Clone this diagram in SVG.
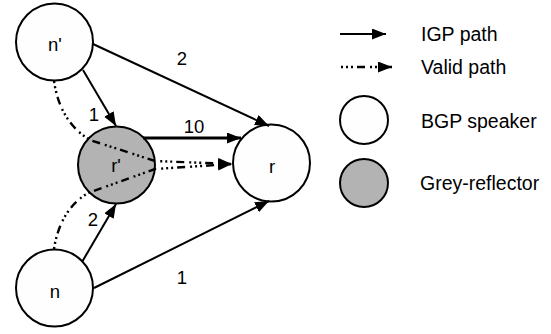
<svg xmlns="http://www.w3.org/2000/svg" width="551" height="334" viewBox="0 0 551 334">
<defs>
<marker id="ah" markerUnits="userSpaceOnUse" markerWidth="16" markerHeight="12" refX="14" refY="5.5" orient="auto">
<path d="M0,0 L14,5.5 L0,11 z" fill="#000"/>
</marker>
<style>
.node{stroke:#000;stroke-width:2;fill:#fefefe}
.grey{fill:#b3b3b3}
.e{stroke:#000;stroke-width:2;fill:none;marker-end:url(#ah)}
.thick{stroke-width:3}
.v{stroke:#000;stroke-width:2.4;fill:none;stroke-dasharray:2,3,2,3,2,4,8,5;marker-end:url(#ah)}
text{font-family:"Liberation Sans",Arial,sans-serif;font-size:18.5px;fill:#000}
.c{text-anchor:middle}
.lg{font-size:19.5px}
</style>
</defs>
<rect width="551" height="334" fill="#fff"/>
<g id="n-prime"><circle class="node" cx="54.5" cy="42" r="38.5"/><text class="c" x="55" y="51">n'</text></g>
<g id="r-prime"><circle class="node grey" cx="116.5" cy="165" r="38.5"/><text class="c" x="116" y="172">r'</text></g>
<g id="r"><circle class="node" cx="271.5" cy="163" r="38.5"/><text class="c" x="272" y="173">r</text></g>
<g id="n"><circle class="node" cx="54.5" cy="288" r="38.5"/><text class="c" x="55" y="298">n</text></g>
<g id="connectors">
<path class="v" d="M54,81 Q60,122 90,140 L155,161 L232,164"/>
<path class="v" d="M54,249 Q60,210 88,193 L155,169 L232,164"/>
<line class="e" x1="83" y1="70" x2="116" y2="126"/>
<line class="e" x1="93" y1="44" x2="269" y2="126"/>
<line class="e thick" x1="143" y1="138" x2="241" y2="138"/>
<line class="e" x1="82" y1="262" x2="116" y2="204"/>
<line class="e" x1="94" y1="288" x2="269" y2="201"/>
<text class="c" x="182" y="65">2</text>
<text class="c" x="94" y="121">1</text>
<text class="c" x="194" y="133">10</text>
<text class="c" x="93" y="226">2</text>
<text class="c" x="182" y="284">1</text>
</g>
<g id="legend">
<line class="e" x1="340" y1="34" x2="386" y2="34"/>
<text class="lg" x="421" y="41">IGP path</text>
<line class="v" x1="341" y1="67" x2="392" y2="67"/>
<text class="lg" x="421" y="74">Valid path</text>
<circle class="node" cx="364" cy="120" r="24"/>
<text class="lg" x="421" y="128">BGP speaker</text>
<circle class="node grey" cx="364" cy="183" r="24"/>
<text class="lg" x="420" y="190">Grey-reflector</text>
</g>
</svg>
